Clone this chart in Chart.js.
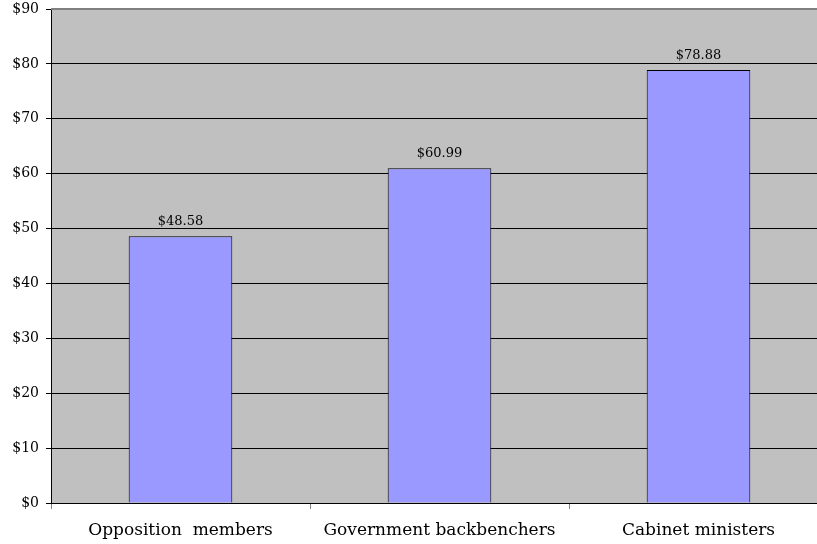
<!DOCTYPE html>
<html>
<head>
<meta charset="utf-8">
<script src="https://cdn.jsdelivr.net/npm/chart.js@4"></script>
<style>
  html, body { margin: 0; padding: 0; background: #fff; overflow: hidden; }
  #wrap { width: 817px; height: 544px; overflow: hidden; }
  canvas { display: block; }
</style>
</head>
<body>
<div id="wrap"><canvas id="chart" width="832" height="544"></canvas></div>
<script>
const categories = ["Opposition  members", "Government backbenchers", "Cabinet ministers"];
const values     = [48.58, 60.99, 78.88];
const yTicks     = [0, 10, 20, 30, 40, 50, 60, 70, 80, 90];

const FONT = "'DejaVu Serif', 'Liberation Serif', serif";

// --- gray plot background ---
const plotBg = {
  id: "plotBg",
  beforeDraw(chart) {
    const { ctx, chartArea: a } = chart;
    ctx.save();
    ctx.fillStyle = "#c0c0c0";
    ctx.fillRect(a.left, a.top, a.right - a.left, a.bottom - a.top);
    ctx.restore();
  },
  afterDraw(chart) {
    // gray top border of plot area
    const { ctx, chartArea: a } = chart;
    ctx.save();
    ctx.strokeStyle = "#808080";
    ctx.lineWidth = 2;
    ctx.beginPath();
    ctx.moveTo(a.left, a.top);
    ctx.lineTo(a.right, a.top);
    ctx.stroke();
    ctx.restore();
  }
};

// --- value labels above bars ---
const barLabels = {
  id: "barLabels",
  afterDatasetsDraw(chart) {
    const { ctx } = chart;
    const meta = chart.getDatasetMeta(0);
    ctx.save();
    ctx.font = "13px " + FONT;
    ctx.fillStyle = "#000";
    ctx.textAlign = "center";
    ctx.textBaseline = "alphabetic";
    meta.data.forEach((bar, i) => {
      ctx.fillText("$" + values[i].toFixed(2), bar.x, bar.y - 11);
    });
    ctx.restore();
  }
};

new Chart(document.getElementById("chart"), {
  type: "bar",
  data: {
    labels: categories,
    datasets: [{
      data: values,
      backgroundColor: "#9999ff",
      borderColor: "#000",
      borderWidth: 1,
      categoryPercentage: 0.8,
      barPercentage: 0.5
    }]
  },
  options: {
    responsive: false,
    animation: false,
    layout: { padding: { top: 9, right: 4, left: 0, bottom: 0 } },
    plugins: { legend: { display: false }, tooltip: { enabled: false } },
    scales: {
      x: {
        offset: true,
        afterFit(axis) {
          axis.height = 41;
          axis.paddingLeft = 0;
          axis.paddingRight = 0;
        },
        grid: { offset: true, drawOnChartArea: false, drawTicks: true, tickLength: 6, color: "#808080" },
        border: { color: "#000" },
        ticks: { color: "#000", font: { family: FONT, size: 17 }, padding: 11 }
      },
      y: {
        min: 0,
        max: 90,
        afterFit(axis) {
          axis.width = 51;
          axis.paddingTop = 0;
          axis.paddingBottom = 0;
        },
        afterBuildTicks(axis) { axis.ticks = yTicks.map(v => ({ value: v })); },
        grid: { color: "#000", tickLength: 5 },
        border: { color: "#000" },
        ticks: {
          color: "#000",
          font: { family: FONT, size: 14 },
          padding: 7,
          callback: v => "$" + v
        }
      }
    }
  },
  plugins: [plotBg, barLabels]
});
</script>
</body>
</html>
